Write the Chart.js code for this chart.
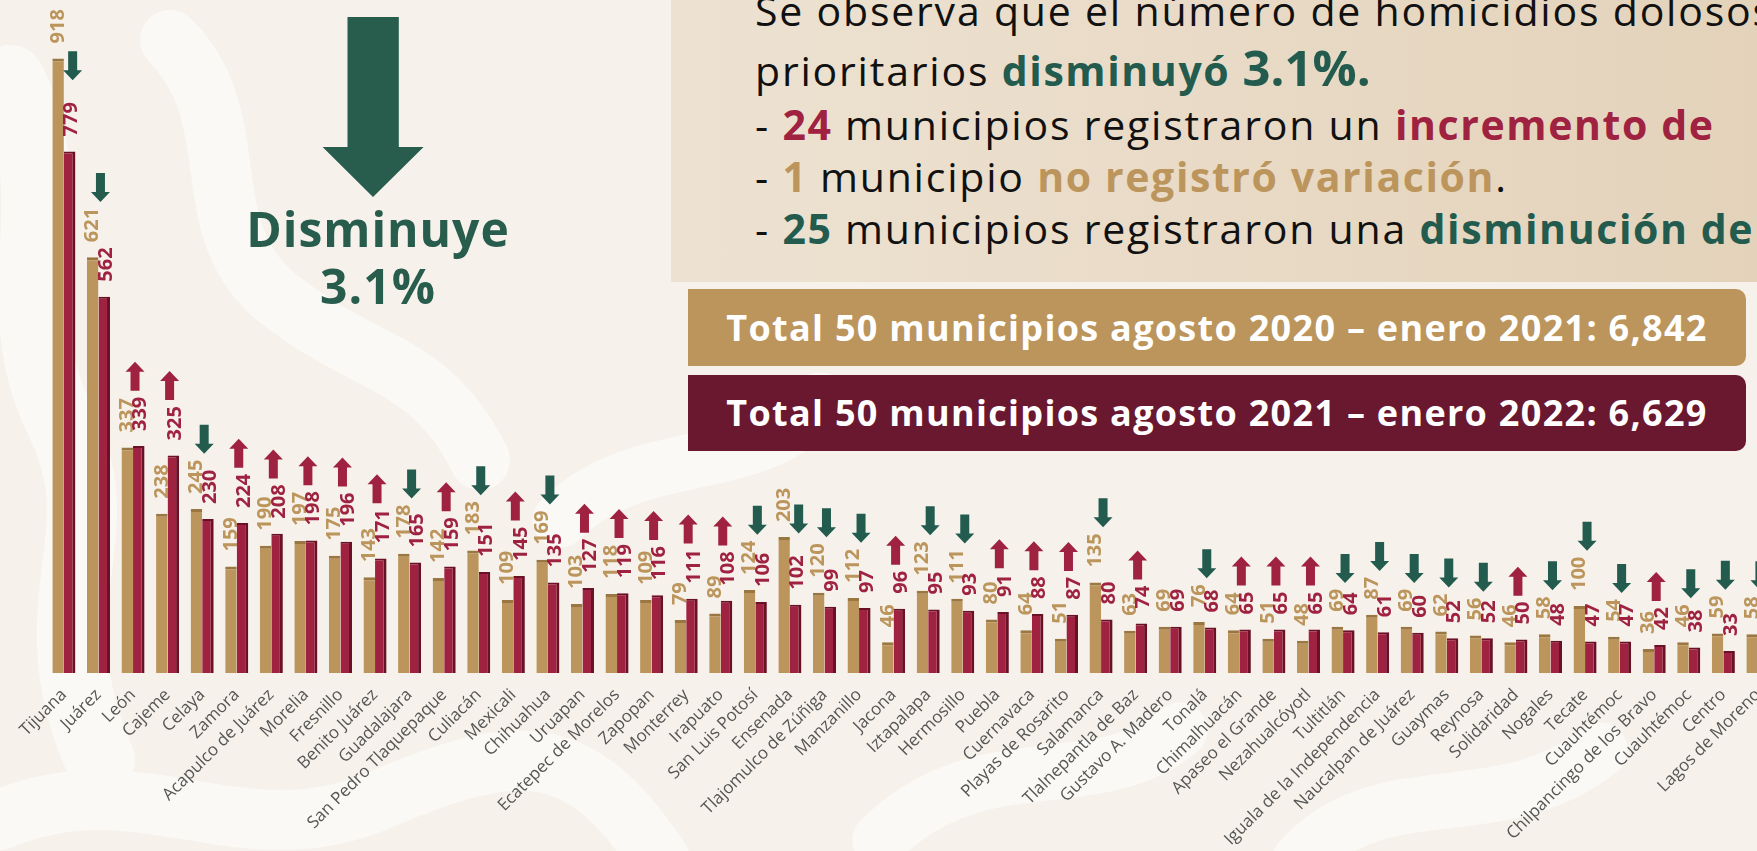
<!DOCTYPE html>
<html><head><meta charset="utf-8">
<script src="https://cdn.jsdelivr.net/npm/chart.js@4.4.1/dist/chart.umd.min.js"></script>
<style>
html,body{margin:0;padding:0;}
body{width:1757px;height:851px;overflow:hidden;position:relative;background:#F6F2EB;font-family:"Open Sans",sans-serif;}
#bg{position:absolute;left:0;top:0;z-index:0;}
#wrap{position:absolute;left:0;top:0;width:1800px;height:851px;z-index:1;}
#panel{position:absolute;left:671px;top:0;width:1200px;height:282px;background:linear-gradient(90deg,#EDE2D2 0%,#E3D1B8 100%);z-index:2;overflow:hidden;}
.line{position:absolute;left:84px;white-space:nowrap;font-size:41px;line-height:1;color:#111;letter-spacing:1.8px;}
.b{font-weight:700;letter-spacing:1.6px;}
.red{color:#9F2241;} .gold{color:#BC955C;} .green{color:#235B4E;}
.box{position:absolute;left:688px;width:1058px;border-radius:0 10px 10px 0;color:#fff;font-weight:700;font-size:36px;letter-spacing:1.3px;text-align:center;z-index:2;white-space:nowrap;}
#big{position:absolute;left:0;top:0;z-index:2;}
.dis{position:absolute;left:228px;width:300px;text-align:center;font-weight:700;font-size:48px;line-height:1;color:#285C4D;letter-spacing:1px;z-index:2;}
</style></head>
<body>
<svg id="bg" width="1757" height="851">
  <g fill="none" stroke="#ffffff" stroke-linecap="round" opacity="0.55">
    <path d="M10,80 C70,200 0,300 60,420 S30,600 100,760" stroke-width="70"/>
    <path d="M170,40 C250,120 190,230 280,300 S430,360 480,460" stroke-width="60"/>
    <path d="M560,520 C640,440 760,480 820,400" stroke-width="55"/>
    <path d="M0,820 C140,760 240,860 380,800 S580,740 660,860" stroke-width="60"/>
    <path d="M880,840 C980,740 1100,800 1180,730" stroke-width="55"/>
    <path d="M1300,860 C1380,770 1500,830 1600,750" stroke-width="55"/>
  </g>
</svg>
<div id="wrap"><canvas id="c" width="1800" height="851"></canvas></div>
<svg id="big" width="600" height="300"><polygon points="347.5,17 398.8,17 398.8,147 423.6,147 373,197 322.6,147 347.5,147" fill="#285C4D"/></svg>
<div class="dis" style="top:205px">Disminuye</div>
<div class="dis" style="top:262px">3.1%</div>
<div id="panel">
  <div class="line" style="top:-10px">Se observa que el número de homicidios dolosos en los 50 municipios</div>
  <div class="line" style="top:50px">prioritarios <span class="b green">disminuyó <span style="font-size:49px;line-height:0;letter-spacing:0">3.1%.</span></span></div>
  <div class="line" style="top:104px">- <span class="b red">24</span> municipios registraron un <span class="b red">incremento de</span></div>
  <div class="line" style="top:156px">- <span class="b gold">1</span> municipio <span class="b gold">no registró variación</span>.</div>
  <div class="line" style="top:208px">- <span class="b green">25</span> municipios registraron una <span class="b green">disminución de</span></div>
</div>
<div class="box" style="top:289px;height:77px;line-height:77px;background:#BC955C;">Total 50 municipios agosto 2020 – enero 2021: 6,842</div>
<div class="box" style="top:375px;height:76px;line-height:76px;background:#6A1730;">Total 50 municipios agosto 2021 – enero 2022: 6,629</div>
<script>
const categories = ["Tijuana","Juárez","León","Cajeme","Celaya","Zamora","Acapulco de Juárez","Morelia","Fresnillo","Benito Juárez","Guadalajara","San Pedro Tlaquepaque","Culiacán","Mexicali","Chihuahua","Uruapan","Ecatepec de Morelos","Zapopan","Monterrey","Irapuato","San Luis Potosí","Ensenada","Tlajomulco de Zúñiga","Manzanillo","Jacona","Iztapalapa","Hermosillo","Puebla","Cuernavaca","Playas de Rosarito","Salamanca","Tlalnepantla de Baz","Gustavo A. Madero","Tonalá","Chimalhuacán","Apaseo el Grande","Nezahualcóyotl","Tultitlán","Iguala de la Independencia","Naucalpan de Juárez","Guaymas","Reynosa","Solidaridad","Nogales","Tecate","Cuauhtémoc","Chilpancingo de los Bravo","Cuauhtémoc","Centro","Lagos de Moreno"];
const values2020 = [918,621,337,238,245,159,190,197,175,143,178,142,183,109,169,103,118,109,79,89,124,203,120,112,46,123,111,80,64,51,135,63,69,76,64,51,48,69,87,69,62,56,46,58,100,54,36,46,59,58];
const values2021 = [779,562,339,325,230,224,208,198,196,171,165,159,151,145,135,127,119,116,111,108,106,102,99,97,96,95,93,91,88,87,80,74,69,68,65,65,65,64,61,60,52,52,50,48,47,47,42,38,33,27];
const GOLD='#BC955C', RED='#9F2241', GREEN='#235B4E';

function drawRot(ctx,t,x,y,color){
  ctx.save(); ctx.translate(x,y); ctx.rotate(-Math.PI/2);
  ctx.fillStyle=color; ctx.textAlign='left'; ctx.textBaseline='middle';
  ctx.fillText(t,0,0); ctx.restore();
}
function drawArrow(ctx,x,bottom,down){
  const H=29, hh=10, hw=9.5, sw=4.5;
  ctx.beginPath();
  const top=bottom-H;
  if(down){
    ctx.moveTo(x-sw,top); ctx.lineTo(x+sw,top); ctx.lineTo(x+sw,bottom-hh); ctx.lineTo(x+hw,bottom-hh);
    ctx.lineTo(x,bottom); ctx.lineTo(x-hw,bottom-hh); ctx.lineTo(x-sw,bottom-hh);
    ctx.fillStyle=GREEN;
  } else {
    ctx.moveTo(x,top); ctx.lineTo(x+hw,top+hh); ctx.lineTo(x+sw,top+hh); ctx.lineTo(x+sw,bottom);
    ctx.lineTo(x-sw,bottom); ctx.lineTo(x-sw,top+hh); ctx.lineTo(x-hw,top+hh);
    ctx.fillStyle=RED;
  }
  ctx.closePath(); ctx.fill();
}
const annot = {
  id:'annot',
  afterDatasetsDraw(chart){
    const ctx=chart.ctx;
    const m0=chart.getDatasetMeta(0), m1=chart.getDatasetMeta(1);
    ctx.save();
    ctx.font='bold 20px "Open Sans"';
    const off=15;
    for(let i=0;i<categories.length;i++){
      const b0=m0.data[i], b1=m1.data[i];
      const t0=String(values2020[i]), t1=String(values2021[i]);
      const w0=ctx.measureText(t0).width, w1=ctx.measureText(t1).width;
      drawRot(ctx,t0,b0.x,b0.y-off,GOLD);
      drawRot(ctx,t1,b1.x+2,b1.y-off,RED);
      const top0=b0.y-off-w0, top1=b1.y-off-w1;
      const diff=values2021[i]-values2020[i];
      if(diff===0) continue;
      let ax,bottom;
      if(diff<0 && top1-top0>60){ ax=b1.x+3; bottom=top1-22; }
      else { ax=(b0.x+b1.x)/2+2; bottom=Math.min(top0,top1)-6; }
      drawArrow(ctx,ax,bottom,diff<0);
    }
    ctx.restore();
  }
};
new Chart(document.getElementById('c'),{
  type:'bar',
  data:{labels:categories,datasets:[
    {label:'Agosto 2020 – enero 2021',data:values2020,backgroundColor:GOLD,borderColor:'#9A7640',borderWidth:{top:3,right:0,left:0,bottom:0},borderSkipped:'bottom'},
    {label:'Agosto 2021 – enero 2022',data:values2021,backgroundColor:RED,borderColor:'#6A1027',borderWidth:{top:2,right:3,left:0,bottom:0},borderSkipped:'bottom'}
  ]},
  options:{
    responsive:false,animation:false,devicePixelRatio:1,
    categoryPercentage:0.667,barPercentage:1.0,
    layout:{padding:{left:46.6,right:24.8,top:3.5,bottom:0}},
    plugins:{legend:{display:false},tooltip:{enabled:false}},
    scales:{
      y:{display:false,min:0,max:1000},
      x:{grid:{display:false,drawTicks:false},border:{display:false},
         ticks:{color:'#555',font:{family:'Open Sans',size:17},maxRotation:45,minRotation:45,padding:12,autoSkip:false},
         afterFit(axis){axis.height=178;axis.paddingLeft=0;axis.paddingRight=0;}}
    }
  },
  plugins:[annot]
});
</script>
</body></html>
